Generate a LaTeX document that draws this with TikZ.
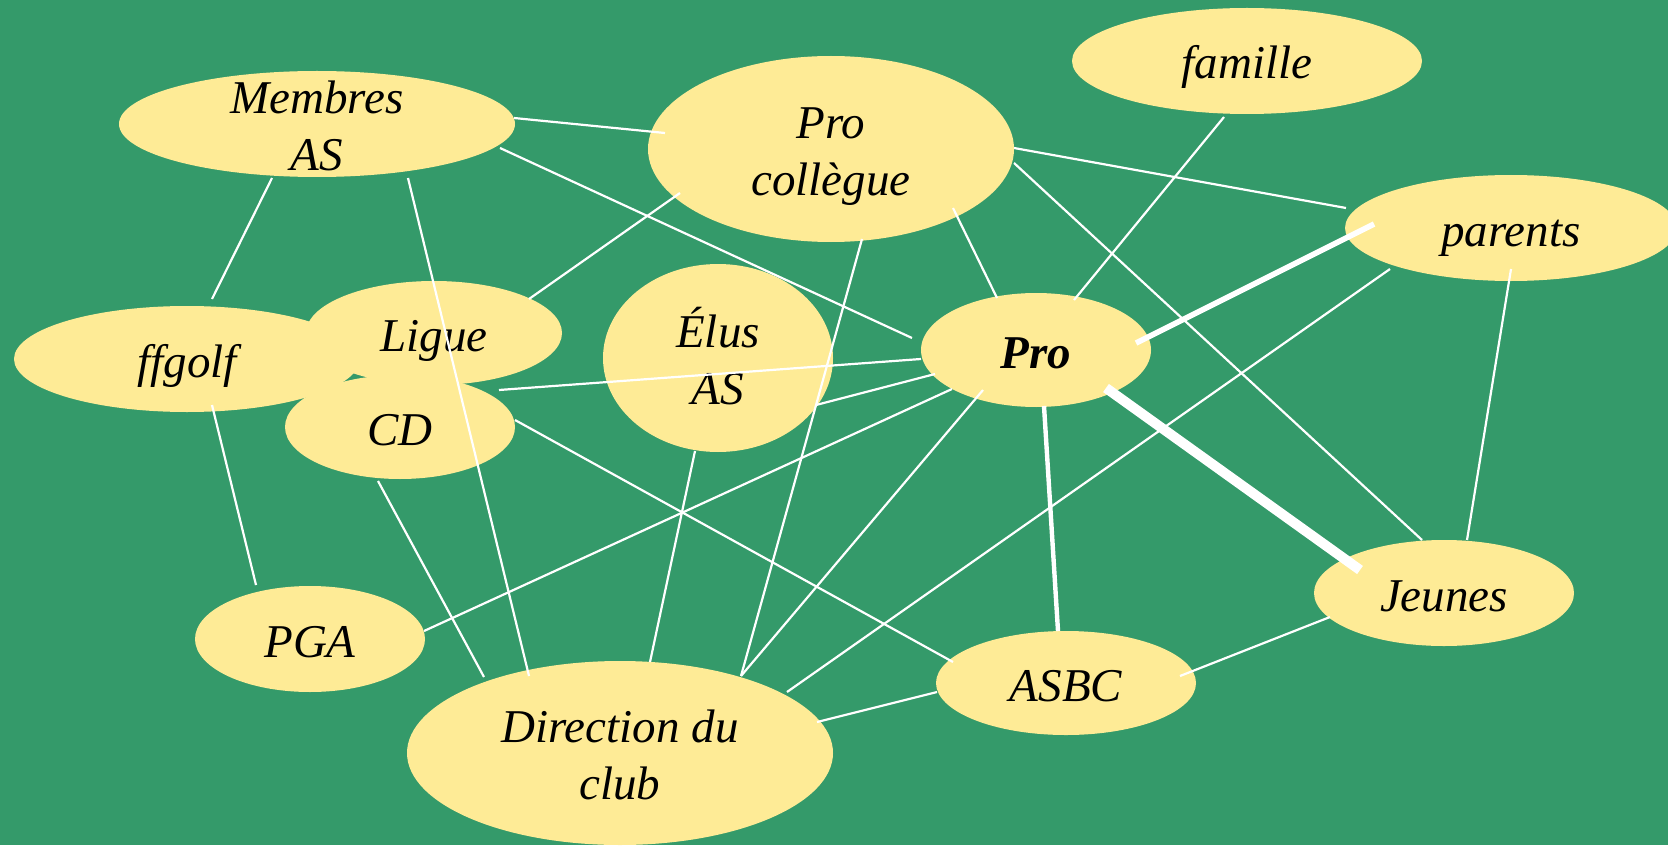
\documentclass[tikz,border=0pt]{standalone}
\usepackage{fontspec}
\setmainfont{Liberation Serif}
\usetikzlibrary{shapes.geometric}
\definecolor{bggreen}{RGB}{52,154,106}
\definecolor{ellfill}{RGB}{254,235,150}
\newcommand\tstrut{\rule{0pt}{24pt}}
\newcommand\bstrut{\rule[-6pt]{0pt}{6pt}}
\newcommand\fstrut{\rule[-6pt]{0pt}{30pt}}
\tikzset{
  bubble/.style={ellipse, fill=ellfill, inner sep=0pt, align=center,
    font=\fontsize{23.5}{28.5}\selectfont\itshape},
  link/.style={draw=white, line width=1.1pt},
  midlink/.style={draw=white, line width=2.2pt},
  boldlink/.style={draw=white, line width=2.8pt},
  heavylink/.style={draw=white, line width=5pt},
}
\begin{document}
\begin{tikzpicture}[x=0.5pt,y=-0.5pt]
\useasboundingbox (0,0) rectangle (1668,845);
\clip (0,0) rectangle (1668,845);
\fill[bggreen] (0,0) rectangle (1668,845);

% ellipses
\node[bubble, inner ysep=-15pt, minimum width=198pt, minimum height=53pt] (mem) at (317,124) {\tstrut Membres\\AS\bstrut};
\node[bubble, minimum width=183pt, minimum height=93pt] (pcol) at (831,149) {\tstrut Pro\\collègue\bstrut};
\node[bubble, minimum width=175pt, minimum height=53pt] (fam) at (1247,61) {\fstrut famille};
\node[bubble, minimum width=166pt, minimum height=53pt] (par) at (1511,228) {\fstrut parents};
\node[bubble, minimum width=115pt, minimum height=57pt] (pro) at (1036,350) {\fstrut\bfseries Pro};
\node[bubble, minimum width=173pt, minimum height=53pt] (ffg) at (187,359) {\fstrut ffgolf};
\node[bubble, minimum width=128pt, minimum height=52pt] (lig) at (434,333) {\fstrut Ligue};
\node[bubble, minimum width=115pt, minimum height=52pt] (cd) at (400,427) {\fstrut CD};
\node[bubble, minimum width=115pt, minimum height=94pt] (elus) at (718,358) {\tstrut Élus\\AS\bstrut};
\node[bubble, minimum width=115pt, minimum height=53pt] (pga) at (310,639) {\fstrut PGA};
\node[bubble, minimum width=213pt, minimum height=92pt] (dir) at (620,753) {\tstrut Direction du\\club\bstrut};
\node[bubble, minimum width=130pt, minimum height=52pt] (asbc) at (1066,683) {\fstrut ASBC};
\node[bubble, minimum width=130pt, minimum height=53pt] (jeu) at (1444,593) {\fstrut Jeunes};

% connectors
\draw[link] ([shift={(197,-6)}]mem.center) -- ([shift={(-166,-16)}]pcol.center);
\draw[link] ([shift={(183,24)}]mem.center) -- ([shift={(-124,-12)}]pro.center);
\draw[link] ([shift={(-45,54)}]mem.center) -- ([shift={(25,-60)}]ffg.center);
\draw[link] ([shift={(91,54)}]mem.center) -- ([shift={(-91,-77)}]dir.center);
\draw[link] ([shift={(-151,44)}]pcol.center) -- ([shift={(95,-34)}]lig.center);
\draw[link] ([shift={(122,59)}]pcol.center) -- ([shift={(-39,-52)}]pro.center);
\draw[link] ([shift={(31,90)}]pcol.center) -- ([shift={(121,-77)}]dir.center);
\draw[link] ([shift={(183,-1)}]pcol.center) -- ([shift={(-165,-20)}]par.center);
\draw[link] ([shift={(183,14)}]pcol.center) -- ([shift={(-22,-53)}]jeu.center);
\draw[link] ([shift={(-23,56)}]fam.center) -- ([shift={(38,-50)}]pro.center);
\draw[boldlink] ([shift={(-137,-4)}]par.center) -- ([shift={(100,-7)}]pro.center);
\draw[link] ([shift={(-121,41)}]par.center) -- ([shift={(167,-61)}]dir.center);
\draw[link] ([shift={(0,41)}]par.center) -- ([shift={(23,-53)}]jeu.center);
\draw[heavylink] ([shift={(70,38)}]pro.center) -- ([shift={(-84,-23)}]jeu.center);
\draw[midlink] ([shift={(8,56)}]pro.center) -- ([shift={(-8,-52)}]asbc.center);
\draw[link] ([shift={(-115,9)}]pro.center) -- ([shift={(65,57)}]lig.center);
\draw[link] ([shift={(-101,24)}]pro.center) -- ([shift={(98,47)}]elus.center);
\draw[link] ([shift={(-84,39)}]pro.center) -- ([shift={(114,-8)}]pga.center);
\draw[link] ([shift={(-53,40)}]pro.center) -- ([shift={(121,-77)}]dir.center);
\draw[link] ([shift={(-23,93)}]elus.center) -- ([shift={(30,-91)}]dir.center);
\draw[link] ([shift={(115,-7)}]cd.center) -- ([shift={(-113,-21)}]asbc.center);
\draw[link] ([shift={(-22,54)}]cd.center) -- ([shift={(-136,-76)}]dir.center);
\draw[link] ([shift={(25,46)}]ffg.center) -- ([shift={(-54,-54)}]pga.center);
\draw[link] ([shift={(197,-31)}]dir.center) -- ([shift={(-129,9)}]asbc.center);
\draw[link] ([shift={(114,-7)}]asbc.center) -- ([shift={(-114,24)}]jeu.center);
\end{tikzpicture}
\end{document}
